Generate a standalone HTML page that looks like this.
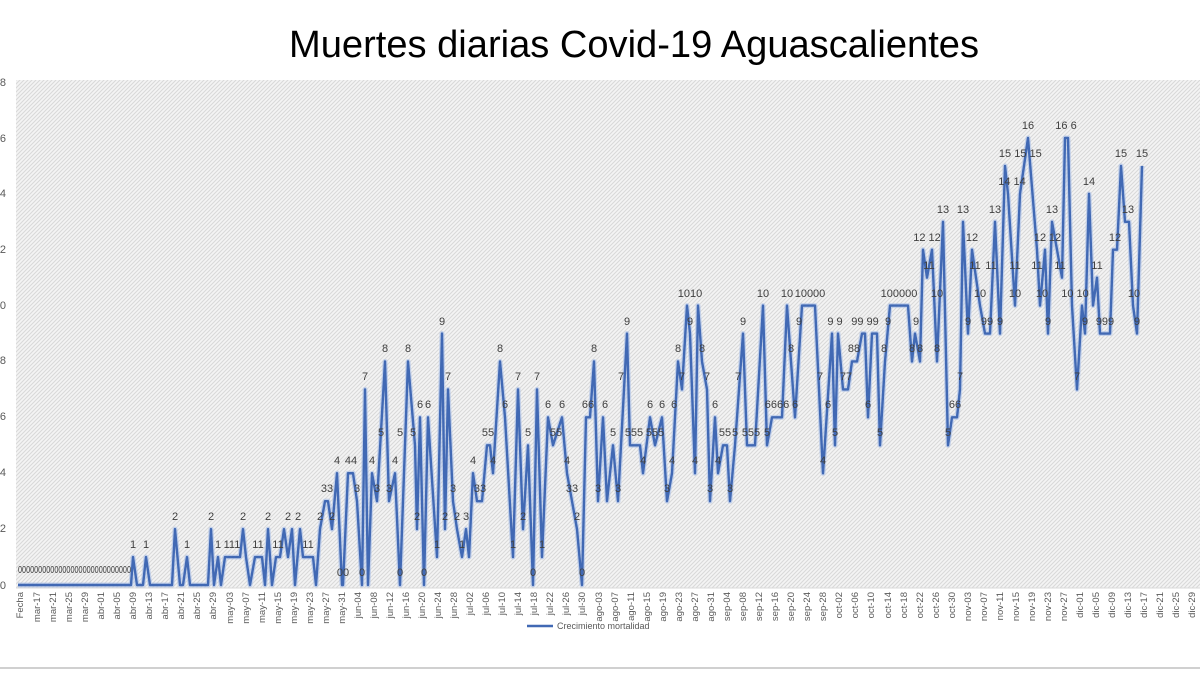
<!DOCTYPE html>
<html><head><meta charset="utf-8"><style>
html,body{margin:0;padding:0;background:#fff;}
svg{display:block;font-family:"Liberation Sans",sans-serif;}
.l{font-size:11px;fill:#404040;text-anchor:middle;}
.x{font-size:9.5px;fill:#595959;text-anchor:end;}
</style></head><body>
<svg width="1200" height="675" viewBox="0 0 1200 675">
<defs>
<pattern id="h" width="4" height="4" patternUnits="userSpaceOnUse">
<rect width="4" height="4" fill="#f4f4f4"/>
<path d="M0,4 L4,0 M-1,1 L1,-1 M3,5 L5,3" stroke="#d8d8d8" stroke-width="1"/>
</pattern>
</defs>
<rect width="1200" height="675" fill="#fff"/>
<text x="634" y="57" font-size="38" text-anchor="middle" fill="#000" textLength="690" lengthAdjust="spacingAndGlyphs">Muertes diarias Covid-19 Aguascalientes</text>
<rect x="16" y="80" width="1184" height="508" fill="url(#h)"/>
<g font-size="11" fill="#595959" text-anchor="end">
<text x="6" y="86">18</text><text x="6" y="142">16</text><text x="6" y="197">14</text><text x="6" y="253">12</text><text x="6" y="309">10</text><text x="6" y="364">8</text><text x="6" y="420">6</text><text x="6" y="476">4</text><text x="6" y="532">2</text><text x="6" y="589">0</text>
</g>
<line x1="16" y1="588" x2="1200" y2="588" stroke="#d9d9d9"/>
<g transform="translate(0,585) scale(1,-27.94)">
<polyline fill="none" stroke="#aac0e8" stroke-width="5" vector-effect="non-scaling-stroke" stroke-linejoin="round" opacity="0.6" points="18,0 131,0 133,1 137,0 143,0 146,1 150,0 172,0 175,2 180,0 183,0 187,1 190,0 208,0 211,2 214,0 218,1 221,0 225,1 240,1 243,2 246,1 250,0 255,1 262,1 265,0 268,2 272,0 276,1 280,1 284,2 288,1 292,2 295,0 300,2 303,1 313,1 316,0 320,2 325,3 328,3 332,2 337,4 342,0 343,0 348,4 353,4 357,3 362,0 365,7 368,0 372,4 377,3 385,8 389,3 395,4 400,0 408,8 415,5 417,2 420,6 424,0 428,6 437,1 442,9 445,2 448,7 453,3 457,2 462,1 466,2 469,1 473,4 477,3 482,3 487,5 490,5 493,4 500,8 505,6 513,1 518,7 523,2 528,5 533,0 537,7 542,1 548,6 553,5 562,6 567,4 572,3 577,2 582,0 586,6 590,6 594,8 598,3 603,6 607,3 610,4 613,5 618,3 627,9 630,5 640,5 643,4 650,6 655,5 662,6 667,3 672,4 678,8 682,7 687,10 690,9 695,4 698,10 702,8 707,7 710,3 715,6 718,4 723,5 727,5 730,3 735,5 743,9 747,5 755,5 763,10 767,5 772,6 782,6 787,10 795,6 802,10 815,10 823,4 832,9 835,5 838,9 843,7 848,7 852,8 857,8 862,9 865,9 868,6 872,9 877,9 880,5 885,8 890,10 908,10 912,8 915,9 920,8 923,12 927,11 932,12 937,8 943,13 948,5 952,6 957,6 960,7 963,13 968,9 972,12 980,10 985,9 990,9 995,13 1000,9 1005,15 1008,14 1015,10 1020,14 1028,16 1037,12 1040,10 1045,12 1048,9 1052,13 1057,12 1062,11 1065,16 1068,16 1072,10 1077,7 1082,10 1085,9 1089,14 1093,10 1097,11 1100,9 1110,9 1113,12 1117,12 1121,15 1125,13 1129,13 1133,10 1137,9 1142,15"/>
<polyline fill="none" stroke="#4169b4" stroke-width="2.4" vector-effect="non-scaling-stroke" stroke-linejoin="round" points="18,0 131,0 133,1 137,0 143,0 146,1 150,0 172,0 175,2 180,0 183,0 187,1 190,0 208,0 211,2 214,0 218,1 221,0 225,1 240,1 243,2 246,1 250,0 255,1 262,1 265,0 268,2 272,0 276,1 280,1 284,2 288,1 292,2 295,0 300,2 303,1 313,1 316,0 320,2 325,3 328,3 332,2 337,4 342,0 343,0 348,4 353,4 357,3 362,0 365,7 368,0 372,4 377,3 385,8 389,3 395,4 400,0 408,8 415,5 417,2 420,6 424,0 428,6 437,1 442,9 445,2 448,7 453,3 457,2 462,1 466,2 469,1 473,4 477,3 482,3 487,5 490,5 493,4 500,8 505,6 513,1 518,7 523,2 528,5 533,0 537,7 542,1 548,6 553,5 562,6 567,4 572,3 577,2 582,0 586,6 590,6 594,8 598,3 603,6 607,3 610,4 613,5 618,3 627,9 630,5 640,5 643,4 650,6 655,5 662,6 667,3 672,4 678,8 682,7 687,10 690,9 695,4 698,10 702,8 707,7 710,3 715,6 718,4 723,5 727,5 730,3 735,5 743,9 747,5 755,5 763,10 767,5 772,6 782,6 787,10 795,6 802,10 815,10 823,4 832,9 835,5 838,9 843,7 848,7 852,8 857,8 862,9 865,9 868,6 872,9 877,9 880,5 885,8 890,10 908,10 912,8 915,9 920,8 923,12 927,11 932,12 937,8 943,13 948,5 952,6 957,6 960,7 963,13 968,9 972,12 980,10 985,9 990,9 995,13 1000,9 1005,15 1008,14 1015,10 1020,14 1028,16 1037,12 1040,10 1045,12 1048,9 1052,13 1057,12 1062,11 1065,16 1068,16 1072,10 1077,7 1082,10 1085,9 1089,14 1093,10 1097,11 1100,9 1110,9 1113,12 1117,12 1121,15 1125,13 1129,13 1133,10 1137,9 1142,15"/>
</g>
<text x="18" y="573" font-size="10" fill="#404040" textLength="113" lengthAdjust="spacingAndGlyphs">0000000000000000000000000000</text>
<g class="l">
<text x="133" y="548">1</text><text x="146" y="548">1</text><text x="175" y="520">2</text><text x="187" y="548">1</text><text x="211" y="520">2</text><text x="218" y="548">1</text><text x="232" y="548">111</text><text x="243" y="520">2</text><text x="258" y="548">11</text><text x="268" y="520">2</text><text x="278" y="548">11</text><text x="288" y="520">2</text><text x="298" y="520">2</text><text x="308" y="548">11</text><text x="320" y="520">2</text><text x="327" y="492">33</text><text x="332" y="520">2</text><text x="337" y="464">4</text><text x="343" y="576">00</text><text x="351" y="464">44</text><text x="357" y="492">3</text><text x="362" y="576">0</text><text x="365" y="380">7</text><text x="372" y="464">4</text><text x="377" y="492">3</text><text x="381" y="436">5</text><text x="385" y="352">8</text><text x="389" y="492">3</text><text x="395" y="464">4</text><text x="400" y="436">5</text><text x="400" y="576">0</text><text x="408" y="352">8</text><text x="413" y="436">5</text><text x="417" y="520">2</text><text x="420" y="408">6</text><text x="424" y="576">0</text><text x="428" y="408">6</text><text x="437" y="548">1</text><text x="442" y="325">9</text><text x="445" y="520">2</text><text x="448" y="380">7</text><text x="453" y="492">3</text><text x="457" y="520">2</text><text x="462" y="548">1</text><text x="466" y="520">3</text><text x="473" y="464">4</text><text x="480" y="492">33</text><text x="488" y="436">55</text><text x="493" y="464">4</text><text x="500" y="352">8</text><text x="505" y="408">6</text><text x="513" y="548">1</text><text x="518" y="380">7</text><text x="523" y="520">2</text><text x="528" y="436">5</text><text x="533" y="576">0</text><text x="537" y="380">7</text><text x="542" y="548">1</text><text x="548" y="408">6</text><text x="556" y="436">55</text><text x="562" y="408">6</text><text x="567" y="464">4</text><text x="572" y="492">33</text><text x="577" y="520">2</text><text x="582" y="576">0</text><text x="588" y="408">66</text><text x="594" y="352">8</text><text x="598" y="492">3</text><text x="605" y="408">6</text><text x="613" y="436">5</text><text x="618" y="492">3</text><text x="627" y="325">9</text><text x="621" y="380">7</text><text x="634" y="436">555</text><text x="643" y="464">4</text><text x="650" y="408">6</text><text x="655" y="436">555</text><text x="662" y="408">6</text><text x="667" y="492">3</text><text x="672" y="464">4</text><text x="674" y="408">6</text><text x="678" y="352">8</text><text x="682" y="380">7</text><text x="690" y="297">1010</text><text x="690" y="325">9</text><text x="695" y="464">4</text><text x="702" y="352">8</text><text x="707" y="380">7</text><text x="710" y="492">3</text><text x="715" y="408">6</text><text x="718" y="464">4</text><text x="725" y="436">55</text><text x="730" y="492">3</text><text x="735" y="436">5</text><text x="738" y="380">7</text><text x="743" y="325">9</text><text x="751" y="436">555</text><text x="763" y="297">10</text><text x="767" y="436">5</text><text x="777" y="408">6666</text><text x="787" y="297">10</text><text x="795" y="408">6</text><text x="791" y="352">8</text><text x="799" y="325">9</text><text x="810" y="297">10000</text><text x="820" y="380">7</text><text x="823" y="464">4</text><text x="828" y="408">6</text><text x="835" y="325">9 9</text><text x="835" y="436">5</text><text x="846" y="380">77</text><text x="854" y="352">88</text><text x="865" y="325">99 99</text><text x="868" y="408">6</text><text x="880" y="436">5</text><text x="884" y="352">8</text><text x="888" y="325">9</text><text x="899" y="297">100000</text><text x="912" y="352">8</text><text x="916" y="325">9</text><text x="920" y="352">8</text><text x="927" y="241">12 12</text><text x="929" y="269">11</text><text x="937" y="297">10</text><text x="937" y="352">8</text><text x="943" y="213">13</text><text x="948" y="436">5</text><text x="955" y="408">66</text><text x="960" y="380">7</text><text x="963" y="213">13</text><text x="968" y="325">9</text><text x="972" y="241">12</text><text x="975" y="269">11</text><text x="980" y="297">10</text><text x="987" y="325">99</text><text x="991" y="269">11</text><text x="995" y="213">13</text><text x="1000" y="325">9</text><text x="1005" y="157">15</text><text x="1012" y="185">14 14</text><text x="1015" y="297">10</text><text x="1015" y="269">11</text><text x="1028" y="129">16</text><text x="1028" y="157">15 15</text><text x="1037" y="269">11</text><text x="1040" y="241">12</text><text x="1042" y="297">10</text><text x="1048" y="325">9</text><text x="1052" y="213">13</text><text x="1055" y="241">12</text><text x="1060" y="269">11</text><text x="1066" y="129">16 6</text><text x="1075" y="297">10 10</text><text x="1077" y="380">7</text><text x="1085" y="325">9</text><text x="1089" y="185">14</text><text x="1097" y="269">11</text><text x="1105" y="325">999</text><text x="1115" y="241">12</text><text x="1121" y="157">15</text><text x="1128" y="213">13</text><text x="1134" y="297">10</text><text x="1137" y="325">9</text><text x="1142" y="157">15</text>
</g>
<g class="x">
<text transform="translate(23,592) rotate(-90)">Fecha</text>
<text transform="translate(40,592) rotate(-90)">mar-17</text>
<text transform="translate(56,592) rotate(-90)">mar-21</text>
<text transform="translate(72,592) rotate(-90)">mar-25</text>
<text transform="translate(88,592) rotate(-90)">mar-29</text>
<text transform="translate(104,592) rotate(-90)">abr-01</text>
<text transform="translate(120,592) rotate(-90)">abr-05</text>
<text transform="translate(136,592) rotate(-90)">abr-09</text>
<text transform="translate(152,592) rotate(-90)">abr-13</text>
<text transform="translate(168,592) rotate(-90)">abr-17</text>
<text transform="translate(184,592) rotate(-90)">abr-21</text>
<text transform="translate(200,592) rotate(-90)">abr-25</text>
<text transform="translate(216,592) rotate(-90)">abr-29</text>
<text transform="translate(233,592) rotate(-90)">may-03</text>
<text transform="translate(249,592) rotate(-90)">may-07</text>
<text transform="translate(265,592) rotate(-90)">may-11</text>
<text transform="translate(281,592) rotate(-90)">may-15</text>
<text transform="translate(297,592) rotate(-90)">may-19</text>
<text transform="translate(313,592) rotate(-90)">may-23</text>
<text transform="translate(329,592) rotate(-90)">may-27</text>
<text transform="translate(345,592) rotate(-90)">may-31</text>
<text transform="translate(361,592) rotate(-90)">jun-04</text>
<text transform="translate(377,592) rotate(-90)">jun-08</text>
<text transform="translate(393,592) rotate(-90)">jun-12</text>
<text transform="translate(409,592) rotate(-90)">jun-16</text>
<text transform="translate(425,592) rotate(-90)">jun-20</text>
<text transform="translate(441,592) rotate(-90)">jun-24</text>
<text transform="translate(457,592) rotate(-90)">jun-28</text>
<text transform="translate(473,592) rotate(-90)">jul-02</text>
<text transform="translate(489,592) rotate(-90)">jul-06</text>
<text transform="translate(505,592) rotate(-90)">jul-10</text>
<text transform="translate(521,592) rotate(-90)">jul-14</text>
<text transform="translate(537,592) rotate(-90)">jul-18</text>
<text transform="translate(553,592) rotate(-90)">jul-22</text>
<text transform="translate(569,592) rotate(-90)">jul-26</text>
<text transform="translate(585,592) rotate(-90)">jul-30</text>
<text transform="translate(602,592) rotate(-90)">ago-03</text>
<text transform="translate(618,592) rotate(-90)">ago-07</text>
<text transform="translate(634,592) rotate(-90)">ago-11</text>
<text transform="translate(650,592) rotate(-90)">ago-15</text>
<text transform="translate(666,592) rotate(-90)">ago-19</text>
<text transform="translate(682,592) rotate(-90)">ago-23</text>
<text transform="translate(698,592) rotate(-90)">ago-27</text>
<text transform="translate(714,592) rotate(-90)">ago-31</text>
<text transform="translate(730,592) rotate(-90)">sep-04</text>
<text transform="translate(746,592) rotate(-90)">sep-08</text>
<text transform="translate(762,592) rotate(-90)">sep-12</text>
<text transform="translate(778,592) rotate(-90)">sep-16</text>
<text transform="translate(794,592) rotate(-90)">sep-20</text>
<text transform="translate(810,592) rotate(-90)">sep-24</text>
<text transform="translate(826,592) rotate(-90)">sep-28</text>
<text transform="translate(842,592) rotate(-90)">oct-02</text>
<text transform="translate(858,592) rotate(-90)">oct-06</text>
<text transform="translate(874,592) rotate(-90)">oct-10</text>
<text transform="translate(891,592) rotate(-90)">oct-14</text>
<text transform="translate(907,592) rotate(-90)">oct-18</text>
<text transform="translate(923,592) rotate(-90)">oct-22</text>
<text transform="translate(939,592) rotate(-90)">oct-26</text>
<text transform="translate(955,592) rotate(-90)">oct-30</text>
<text transform="translate(971,592) rotate(-90)">nov-03</text>
<text transform="translate(987,592) rotate(-90)">nov-07</text>
<text transform="translate(1003,592) rotate(-90)">nov-11</text>
<text transform="translate(1019,592) rotate(-90)">nov-15</text>
<text transform="translate(1035,592) rotate(-90)">nov-19</text>
<text transform="translate(1051,592) rotate(-90)">nov-23</text>
<text transform="translate(1067,592) rotate(-90)">nov-27</text>
<text transform="translate(1083,592) rotate(-90)">dic-01</text>
<text transform="translate(1099,592) rotate(-90)">dic-05</text>
<text transform="translate(1115,592) rotate(-90)">dic-09</text>
<text transform="translate(1131,592) rotate(-90)">dic-13</text>
<text transform="translate(1147,592) rotate(-90)">dic-17</text>
<text transform="translate(1163,592) rotate(-90)">dic-21</text>
<text transform="translate(1179,592) rotate(-90)">dic-25</text>
<text transform="translate(1195,592) rotate(-90)">dic-29</text>
</g>
<line x1="527" y1="626" x2="553" y2="626" stroke="#4169b4" stroke-width="2.4"/>
<text x="557" y="629" font-size="9" fill="#595959">Crecimiento mortalidad</text>
<line x1="0" y1="668" x2="1200" y2="668" stroke="#d0d0d0" stroke-width="2"/>
</svg>
</body></html>
